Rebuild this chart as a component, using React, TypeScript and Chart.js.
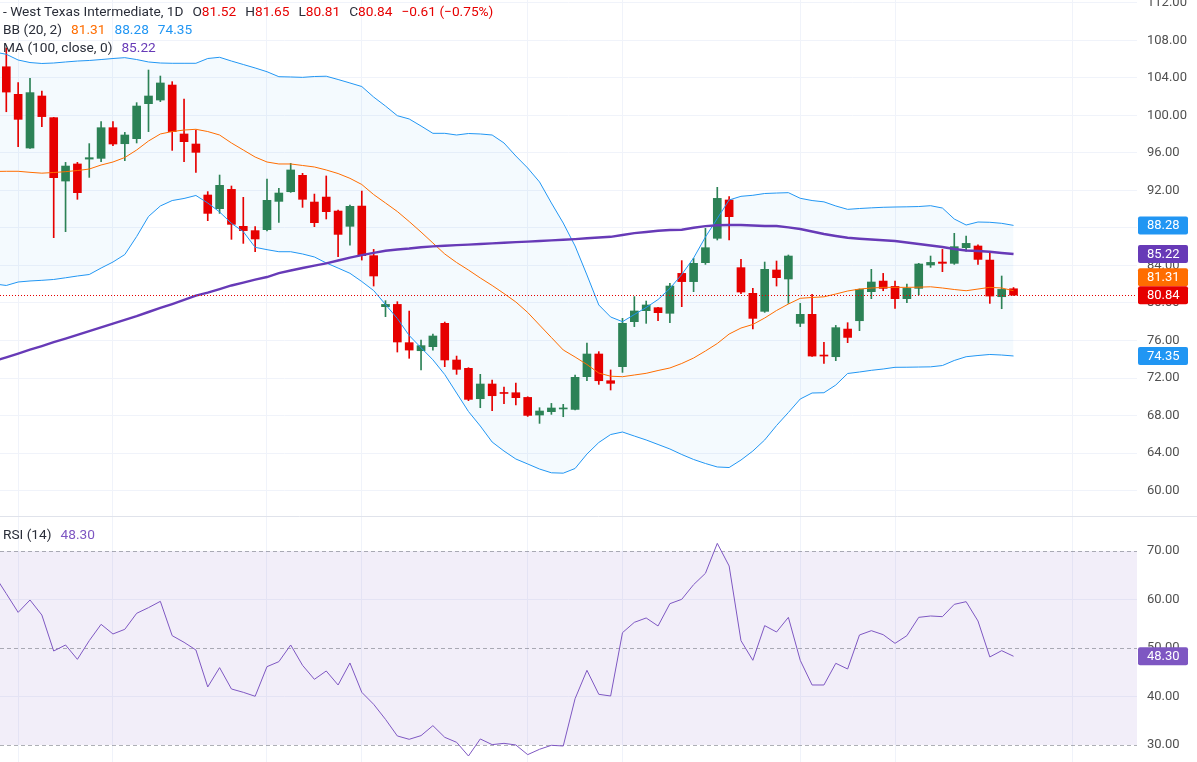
import React, { useEffect, useRef } from 'react';
import { Chart, registerables } from 'chart.js';

Chart.register(...registerables);

const FONT = 'Roboto, "Noto Sans", Arial, sans-serif';
const GREEN = '#2c8256';
const RED = '#e60000';
const BLUE = '#2196f3';
const ORANGE = '#ff6d00';
const PURPLE = '#673ab7';
const RSI_PURPLE = '#7e57c2';
const GRID = '#f0f3fa';
const AXIS_TEXT = '#505050';

// daily candles, oldest first
const opens = [105.2, 102.26, 96.53, 102.08, 99.77, 93.01, 94.83, 95.35, 95.43, 98.7, 96.99, 97.53, 101.26, 101.65, 103.25, 98.03, 96.96, 91.52, 90.06, 92.12, 88.18, 87.72, 87.82, 90.84, 91.87, 93.62, 90.77, 91.3, 89.81, 88.18, 90.34, 85.05, 79.61, 79.85, 75.77, 74.91, 75.34, 77.83, 73.92, 73.03, 69.79, 71.36, 70.43, 70.43, 69.93, 68.05, 68.41, 68.7, 68.65, 72.14, 74.56, 71.71, 73.21, 78.01, 79.18, 79.5, 78.9, 83.16, 82.28, 84.3, 86.9, 90.99, 83.77, 81.03, 79.11, 83.52, 82.56, 77.83, 78.79, 74.45, 74.27, 77.22, 78.11, 81.21, 82.34, 81.77, 80.46, 81.56, 84.05, 84.37, 84.23, 85.9, 86.08, 84.58, 80.67, 81.52];
const highs = [107.2, 103.5, 103.96, 102.61, 99.8, 95.0, 95.0, 97.0, 99.34, 99.34, 98.2, 101.37, 104.85, 104.21, 103.61, 101.76, 98.45, 91.88, 93.65, 92.48, 91.27, 88.14, 93.23, 92.23, 94.9, 93.83, 91.62, 93.55, 89.9, 90.45, 91.94, 85.72, 80.25, 80.14, 79.14, 76.05, 76.69, 77.97, 74.34, 73.1, 72.39, 71.78, 71.04, 71.46, 70.0, 68.83, 69.29, 69.19, 72.32, 75.73, 74.81, 72.86, 78.36, 80.68, 80.21, 79.55, 82.1, 84.52, 84.76, 87.96, 92.34, 91.34, 84.66, 81.56, 84.37, 84.48, 85.12, 79.96, 80.92, 75.8, 77.61, 77.9, 81.5, 83.59, 83.16, 82.34, 82.02, 84.23, 85.01, 85.72, 87.43, 87.14, 86.2, 85.37, 82.88, 81.65];
const lows = [100.4, 96.68, 96.5, 98.81, 86.97, 87.61, 91.06, 93.4, 95.08, 96.79, 95.18, 97.07, 98.28, 101.48, 96.28, 95.08, 93.94, 88.78, 89.56, 86.79, 86.36, 85.48, 87.7, 88.6, 91.8, 90.2, 88.14, 88.96, 84.94, 86.18, 84.58, 81.81, 78.54, 74.77, 74.1, 72.85, 74.98, 73.21, 72.39, 69.58, 68.83, 68.51, 69.26, 69.12, 67.9, 67.16, 68.12, 67.87, 68.6, 71.71, 71.32, 70.72, 72.6, 77.48, 77.83, 78.12, 77.9, 79.61, 81.21, 84.12, 86.72, 86.72, 81.0, 77.23, 79.0, 81.81, 79.96, 77.48, 74.3, 73.56, 73.85, 75.77, 77.05, 80.46, 81.31, 79.43, 80.03, 80.85, 83.8, 83.34, 84.12, 85.54, 84.12, 79.96, 79.39, 80.81];
const closes = [102.5, 99.59, 102.44, 99.88, 93.37, 94.61, 91.77, 95.5, 98.7, 96.96, 97.92, 101.01, 102.08, 103.47, 98.28, 97.21, 96.07, 89.56, 92.55, 88.39, 87.72, 86.83, 90.95, 91.73, 94.19, 91.06, 88.57, 89.74, 87.32, 90.31, 85.05, 82.88, 79.85, 75.84, 74.98, 75.45, 76.48, 73.92, 72.92, 69.72, 71.36, 70.11, 70.35, 69.9, 68.01, 68.48, 68.8, 68.75, 72.07, 74.56, 71.71, 71.43, 77.83, 79.15, 79.79, 78.97, 81.81, 82.28, 84.23, 85.9, 91.16, 89.21, 81.17, 78.36, 83.59, 82.7, 85.01, 78.79, 74.34, 74.34, 77.37, 76.33, 81.45, 82.24, 81.56, 80.46, 81.56, 84.16, 84.33, 84.23, 86.01, 86.36, 84.65, 80.74, 81.45, 80.84];

// indicator series: first value belongs to the session just before the first visible candle
const bbUpper = [106.77, 106.53, 105.92, 105.65, 105.55, 105.6, 105.71, 105.81, 105.87, 105.97, 106.08, 106.17, 105.97, 105.71, 105.6, 105.57, 105.57, 105.57, 106.08, 106.21, 105.81, 105.44, 105.07, 104.67, 104.14, 104.11, 104.07, 104.16, 104.19, 103.84, 103.47, 103.09, 101.97, 101.01, 99.98, 99.63, 98.88, 98.1, 98.1, 97.92, 98.08, 98.03, 97.92, 97.07, 95.68, 94.4, 92.91, 90.67, 88.53, 86.08, 82.99, 79.79, 78.51, 78.01, 78.77, 79.52, 80.37, 81.55, 83.04, 84.8, 87.04, 89.01, 90.99, 91.38, 91.49, 91.68, 91.73, 91.77, 91.17, 90.93, 90.79, 90.35, 89.99, 90.08, 90.15, 90.21, 90.24, 90.26, 90.29, 90.38, 90.13, 88.96, 88.32, 88.64, 88.61, 88.5, 88.28];
const bbMid = [94.03, 94.05, 94.05, 93.94, 93.85, 93.92, 94.01, 94.13, 94.29, 94.72, 95.04, 95.52, 96.32, 97.28, 98.03, 98.29, 98.45, 98.53, 98.29, 97.92, 97.07, 96.32, 95.57, 95.04, 94.83, 94.83, 94.67, 94.51, 94.19, 93.81, 93.3, 92.64, 91.57, 90.67, 89.76, 88.69, 87.57, 86.4, 85.23, 84.32, 83.52, 82.67, 81.87, 81.01, 80.11, 78.99, 77.65, 76.32, 74.99, 74.24, 73.44, 72.53, 72.19, 72.14, 72.32, 72.5, 72.8, 73.07, 73.55, 74.13, 74.88, 75.68, 76.69, 77.33, 77.71, 78.4, 79.2, 79.89, 80.5, 80.59, 80.66, 80.96, 81.28, 81.49, 81.6, 81.67, 81.67, 81.67, 81.69, 81.73, 81.6, 81.44, 81.31, 81.49, 81.67, 81.6, 81.31];
const bbLower = [82.03, 81.87, 82.24, 82.35, 82.42, 82.51, 82.69, 82.88, 83.04, 83.73, 84.37, 85.17, 87.09, 89.23, 90.35, 90.93, 91.15, 91.47, 90.67, 89.71, 88.5, 87.61, 85.94, 85.69, 85.47, 85.47, 85.23, 84.91, 84.27, 83.73, 83.17, 82.29, 81.33, 79.84, 78.35, 76.53, 75.23, 73.94, 72.37, 70.4, 68.43, 66.88, 65.17, 64.21, 63.36, 62.83, 62.29, 61.89, 61.85, 62.35, 63.89, 65.12, 65.97, 66.24, 65.81, 65.39, 64.91, 64.43, 63.84, 63.31, 62.88, 62.51, 62.45, 63.25, 64.21, 65.39, 66.93, 68.32, 69.76, 70.4, 70.43, 71.25, 72.48, 72.64, 72.82, 72.96, 73.14, 73.15, 73.17, 73.19, 73.33, 73.87, 74.27, 74.4, 74.51, 74.45, 74.35];
const ma100 = [73.81, 74.21, 74.61, 75.02, 75.41, 75.82, 76.21, 76.61, 77.01, 77.41, 77.79, 78.19, 78.59, 79.04, 79.47, 79.89, 80.34, 80.78, 81.11, 81.49, 81.87, 82.18, 82.5, 82.77, 83.18, 83.47, 83.73, 83.98, 84.23, 84.53, 84.84, 85.11, 85.35, 85.57, 85.71, 85.81, 85.94, 86.04, 86.1, 86.17, 86.23, 86.29, 86.36, 86.42, 86.49, 86.55, 86.61, 86.68, 86.74, 86.81, 86.9, 86.98, 87.06, 87.25, 87.45, 87.57, 87.7, 87.79, 87.82, 88.03, 88.2, 88.29, 88.32, 88.32, 88.27, 88.21, 88.21, 88.07, 87.89, 87.63, 87.36, 87.15, 86.96, 86.86, 86.78, 86.7, 86.62, 86.46, 86.3, 86.13, 85.97, 85.76, 85.6, 85.55, 85.47, 85.34, 85.22];
const rsi = [65.0, 61.2, 57.35, 59.9, 56.8, 49.38, 50.62, 47.66, 51.51, 54.88, 52.89, 53.85, 57.15, 58.32, 59.62, 52.54, 51.17, 49.59, 41.96, 45.95, 41.55, 40.86, 40.04, 46.15, 47.18, 50.62, 46.43, 43.54, 45.26, 42.37, 46.91, 40.86, 38.39, 35.29, 31.86, 31.17, 31.93, 33.99, 31.58, 30.55, 27.73, 31.24, 30.07, 30.34, 30.0, 28.01, 29.11, 29.93, 29.79, 39.55, 45.4, 40.45, 40.1, 53.16, 55.29, 56.19, 54.54, 59.14, 60.04, 63.06, 65.4, 71.58, 66.91, 51.51, 47.46, 54.61, 53.3, 56.32, 47.46, 42.37, 42.37, 46.84, 45.67, 52.68, 53.57, 52.75, 50.96, 52.54, 56.32, 56.6, 56.46, 59.0, 59.55, 55.57, 48.15, 49.45, 48.3];

// axis ticks
const priceTicks = [60, 64, 68, 72, 76, 80, 84, 88, 92, 96, 100, 104, 108, 112];
const rsiTicks = [30, 40, 50, 60, 70];
const rsiLevels = [70, 50, 30];
const timeGridIdx = [1, 9, 22, 30, 44, 52, 67, 75, 90]; // session index of the date grid lines

const last = (a: number[]) => a[a.length - 1];
const fmt = (v: number) => v.toFixed(2);
const minus = (v: number) => (v < 0 ? '\u2212' : '') + Math.abs(v).toFixed(2);

const X_MIN = -0.532;
const X_MAX = 95.42;

const series = (a: number[]) => a.map((v, i) => ({ x: i - 1, y: v }));

const noPad = (s: any) => {
  s.paddingTop = 0;
  s.paddingBottom = 0;
  s.paddingLeft = 0;
  s.paddingRight = 0;
};

const xScale: any = {
  type: 'linear',
  min: X_MIN,
  max: X_MAX,
  offset: false,
  afterBuildTicks: (s: any) => {
    s.ticks = timeGridIdx.map((v) => ({ value: v }));
  },
  afterFit: (s: any) => {
    s.height = 0;
    noPad(s);
  },
  grid: { color: GRID, drawTicks: false, offset: false },
  border: { display: false },
  ticks: { display: false },
};

const yBase = (ticks: number[], min: number, max: number, gridColor: any): any => ({
  position: 'right',
  min,
  max,
  beginAtZero: false,
  afterBuildTicks: (s: any) => {
    s.ticks = ticks.map((v) => ({ value: v }));
  },
  afterFit: (s: any) => {
    s.width = 60;
    noPad(s);
  },
  grid: { color: gridColor, drawTicks: false },
  border: { display: false },
  ticks: {
    padding: 10,
    color: AXIS_TEXT,
    autoSkip: false,
    font: { family: FONT, size: 13 },
    callback: (v: any) => Number(v).toFixed(2),
  },
});

function drawBadge(ctx: CanvasRenderingContext2D, x: number, y: number, text: string, color: string) {
  const h = 18;
  ctx.save();
  ctx.fillStyle = color;
  ctx.beginPath();
  (ctx as any).roundRect(x, y - h / 2, 50, h, 2);
  ctx.fill();
  ctx.fillStyle = '#ffffff';
  ctx.font = `13px ${FONT}`;
  ctx.textBaseline = 'middle';
  ctx.textAlign = 'left';
  ctx.fillText(text, x + 9, y + 0.5);
  ctx.restore();
}

const priceOverlay = {
  id: 'priceOverlay',
  afterDatasetsDraw(chart: any) {
    const { ctx, chartArea, scales } = chart;
    const y = Math.round(scales.y.getPixelForValue(last(closes))) + 0.5;
    ctx.save();
    ctx.strokeStyle = RED;
    ctx.lineWidth = 1;
    ctx.setLineDash([1, 2]);
    ctx.beginPath();
    ctx.moveTo(chartArea.left, y);
    ctx.lineTo(chartArea.right, y);
    ctx.stroke();
    ctx.restore();
  },
  afterDraw(chart: any) {
    const { ctx, chartArea, scales } = chart;
    const H = 18;
    const yMain = scales.y.getPixelForValue(last(closes));
    const items = [
      { v: last(bbUpper), color: BLUE },
      { v: last(ma100), color: PURPLE },
      { v: last(bbMid), color: ORANGE },
      { v: last(bbLower), color: BLUE },
    ].map((b) => ({ ...b, y: scales.y.getPixelForValue(b.v) }));
    items.forEach((b) => {
      if (Math.abs(b.y - yMain) < H) b.y = b.y <= yMain ? yMain - H : yMain + H;
    });
    const x = chartArea.right + 1;
    items.forEach((b) => drawBadge(ctx, x, b.y, fmt(b.v), b.color));
    drawBadge(ctx, x, yMain, fmt(last(closes)), RED);
  },
};

const rsiOverlay = {
  id: 'rsiOverlay',
  beforeDatasetsDraw(chart: any) {
    const { ctx, chartArea, scales } = chart;
    const top = scales.y.getPixelForValue(rsiLevels[0]);
    const bottom = scales.y.getPixelForValue(rsiLevels[rsiLevels.length - 1]);
    ctx.save();
    ctx.fillStyle = 'rgba(126, 87, 194, 0.1)';
    ctx.fillRect(chartArea.left, top, chartArea.right - chartArea.left, bottom - top);
    ctx.strokeStyle = 'rgba(120, 123, 134, 0.6)';
    ctx.lineWidth = 1;
    ctx.setLineDash([4, 3]);
    rsiLevels.forEach((lv) => {
      const y = Math.round(scales.y.getPixelForValue(lv)) + 0.5;
      ctx.beginPath();
      ctx.moveTo(chartArea.left, y);
      ctx.lineTo(chartArea.right, y);
      ctx.stroke();
    });
    ctx.restore();
  },
  afterDraw(chart: any) {
    const { ctx, chartArea, scales, width } = chart;
    ctx.save();
    ctx.strokeStyle = '#e0e3eb';
    ctx.lineWidth = 1;
    ctx.beginPath();
    ctx.moveTo(0, 0.5);
    ctx.lineTo(width, 0.5);
    ctx.stroke();
    ctx.restore();
    drawBadge(ctx, chartArea.right + 1, scales.y.getPixelForValue(last(rsi)), fmt(last(rsi)), RSI_PURPLE);
  },
};

const candleColors = closes.map((c, i) => (c >= opens[i] ? GREEN : RED));

const baseOptions: any = {
  responsive: false,
  animation: false,
  events: [],
  layout: { autoPadding: false, padding: 0 },
  plugins: { legend: { display: false }, tooltip: { enabled: false } },
};

export default function App() {
  const priceRef = useRef<HTMLCanvasElement>(null);
  const rsiRef = useRef<HTMLCanvasElement>(null);

  useEffect(() => {
    const priceChart = new Chart(priceRef.current as HTMLCanvasElement, {
      type: 'bar',
      data: {
        datasets: [
          {
            type: 'line',
            data: series(bbUpper),
            borderColor: BLUE,
            borderWidth: 1,
            pointRadius: 0,
            tension: 0,
            fill: 1,
            backgroundColor: 'rgba(33, 150, 243, 0.05)',
            order: 1,
          },
          {
            type: 'line',
            data: series(bbLower),
            borderColor: BLUE,
            borderWidth: 1,
            pointRadius: 0,
            tension: 0,
            fill: false,
            order: 1,
          },
          {
            type: 'line',
            data: series(bbMid),
            borderColor: ORANGE,
            borderWidth: 1,
            pointRadius: 0,
            tension: 0,
            fill: false,
            order: 1,
          },
          {
            type: 'line',
            data: series(ma100),
            borderColor: PURPLE,
            borderWidth: 2.4,
            pointRadius: 0,
            tension: 0,
            fill: false,
            order: 0,
          },
          {
            type: 'bar',
            data: lows.map((l, i) => ({ x: i, y: [l, highs[i]] })),
            backgroundColor: candleColors,
            barThickness: 1,
            grouped: false,
            borderWidth: 0,
            order: 5,
          },
          {
            type: 'bar',
            data: opens.map((o, i) => ({ x: i, y: [o, closes[i]] })),
            backgroundColor: candleColors,
            barThickness: 8,
            minBarLength: 1,
            grouped: false,
            borderWidth: 0,
            order: 4,
          },
        ] as any,
      },
      options: {
        ...baseOptions,
        plugins: { ...baseOptions.plugins, filler: { drawTime: 'beforeDatasetsDraw' } },
        scales: {
          x: xScale,
          y: yBase(priceTicks, 57.28, 112.32, GRID),
        },
      },
      plugins: [priceOverlay],
    } as any);

    const rsiChart = new Chart(rsiRef.current as HTMLCanvasElement, {
      type: 'line',
      data: {
        datasets: [
          {
            data: series(rsi),
            borderColor: RSI_PURPLE,
            borderWidth: 1,
            pointRadius: 0,
            tension: 0,
            fill: false,
          },
        ],
      },
      options: {
        ...baseOptions,
        scales: {
          x: xScale,
          y: yBase(rsiTicks, 26.49, 77.22, (c: any) =>
            c.tick && (c.tick.value === 60 || c.tick.value === 40) ? GRID : 'rgba(0,0,0,0)'
          ),
        },
      },
      plugins: [rsiOverlay],
    } as any);

    return () => {
      priceChart.destroy();
      rsiChart.destroy();
    };
  }, []);

  const n = closes.length;
  const change = closes[n - 1] - closes[n - 2];
  const pct = (change / closes[n - 2]) * 100;
  const gap = { marginRight: 9 };
  const label = '#2a2e39';
  const line = { position: 'absolute' as const, left: 3, color: label, whiteSpace: 'nowrap' as const };

  return (
    <div
      style={{
        position: 'absolute',
        left: 0,
        top: 0,
        width: 1197,
        height: 762,
        overflow: 'hidden',
        background: '#ffffff',
        fontFamily: FONT,
        fontSize: 13.7,
        lineHeight: '18px',
      }}
    >
      <canvas ref={priceRef} width={1197} height={516} style={{ position: 'absolute', left: 0, top: 0 }} />
      <canvas ref={rsiRef} width={1197} height={246} style={{ position: 'absolute', left: 0, top: 516 }} />
      <div style={{ ...line, top: 2 }}>
        <span style={gap}>- West Texas Intermediate, 1D</span>
        <span style={gap}>O<span style={{ color: RED }}>{fmt(opens[n - 1])}</span></span>
        <span style={gap}>H<span style={{ color: RED }}>{fmt(highs[n - 1])}</span></span>
        <span style={gap}>L<span style={{ color: RED }}>{fmt(lows[n - 1])}</span></span>
        <span style={gap}>C<span style={{ color: RED }}>{fmt(closes[n - 1])}</span></span>
        <span style={{ color: RED }}>
          {minus(change)} ({minus(pct)}%)
        </span>
      </div>
      <div style={{ ...line, top: 20 }}>
        <span style={gap}>BB (20, 2)</span>
        <span style={{ ...gap, color: ORANGE }}>{fmt(last(bbMid))}</span>
        <span style={{ ...gap, color: BLUE }}>{fmt(last(bbUpper))}</span>
        <span style={{ color: BLUE }}>{fmt(last(bbLower))}</span>
      </div>
      <div style={{ ...line, top: 38 }}>
        <span style={gap}>MA (100, close, 0)</span>
        <span style={{ color: PURPLE }}>{fmt(last(ma100))}</span>
      </div>
      <div style={{ ...line, top: 525 }}>
        <span style={gap}>RSI (14)</span>
        <span style={{ color: RSI_PURPLE }}>{fmt(last(rsi))}</span>
      </div>
    </div>
  );
}
